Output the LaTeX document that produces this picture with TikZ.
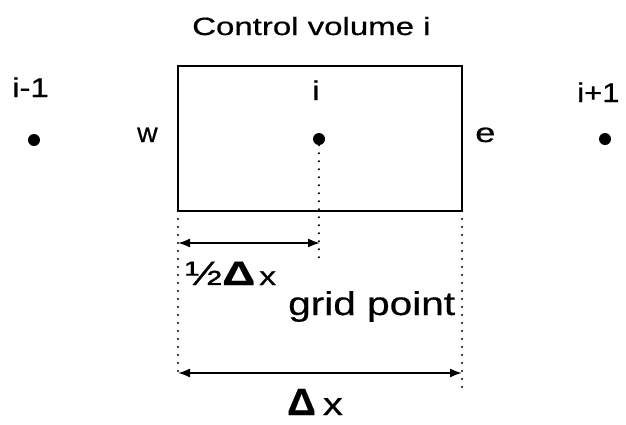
\documentclass[tikz,border=0pt]{standalone}
\usepackage{graphicx}
\usepackage{fontspec}
\setmainfont{Liberation Sans}[FakeBold=0.5]
\usetikzlibrary{arrows.meta}
\newcommand\widetxt[2][1.22]{\scalebox{#1}[1]{#2}}
\tikzset{
  lbl/.style={inner sep=0pt, anchor=base west, font=\fontsize{27}{30}\selectfont},
  txt/.style={inner sep=0pt, anchor=base west},
  dotpt/.style={circle, fill=black, inner sep=0pt, minimum size=12pt},
  guide/.style={line width=2.1pt, line cap=round, dash pattern=on 0pt off 8pt},
  dim/.style={line width=1.8pt, {Latex[length=12pt,width=9pt]}-{Latex[length=12pt,width=9pt]}},
}
\begin{document}
\begin{tikzpicture}[x=1pt, y=-1pt]
\useasboundingbox (0,0) rectangle (626,424);
% control volume box
\draw[line width=1.8pt] (178,66) rectangle (462,211);
\coordinate (bl) at (178,211);
\coordinate (br) at (462,211);
% points
\node[dotpt] (pim) at (34,140) {};
\node[dotpt] (pi) at (319,139) {};
\node[dotpt] (pip) at (605,139) {};
% labels
\node[txt, font=\fontsize{25}{30}\selectfont] (title) at (192,35) {\widetxt[1.32]{Control volume i}};
\node[lbl] (lim) at (12,97) {\widetxt{i-1}};
\node[lbl] (li) at (312,100) {\widetxt{i}};
\node[lbl] (lip) at (577,102) {\widetxt[1.15]{i+1}};
\node[lbl] (lw) at (137,142) {\widetxt[1.05]{w}};
\node[lbl] (le) at (475,142) {\widetxt[1.35]{e}};
% guide lines
\coordinate (cend) at (319,258);
\coordinate (lend) at (178,376);
\coordinate (rend) at (462,388);
\draw[guide] (pi.south) -- (cend);
\draw[guide] (bl) -- (lend);
\draw[guide] (br) -- (rend);
% dimension arrows
\coordinate (a1l) at (178,243);
\coordinate (a1r) at (320,243);
\coordinate (a2l) at (178,373);
\coordinate (a2r) at (462,373);
\draw[dim] (a1l) -- (a1r);
\draw[dim] (a2l) -- (a2r);
% dimension labels
\node[txt, font=\fontsize{34}{36}\selectfont] (half) at (185,285) {\widetxt[1.3]{½}};
\node[txt, font=\fontsize{34}{36}\selectfont] (hdelta) at (222,285) {\widetxt[1.35]{\textbf{Δ}}};
\node[txt, font=\fontsize{26}{30}\selectfont] (hx) at (259,285) {\widetxt[1.3]{x}};
\node[txt, font=\fontsize{33}{38}\selectfont] (gp) at (288,315) {\widetxt[1.23]{grid point}};
\node[txt, font=\fontsize{38}{42}\selectfont] (dx) at (287,415)
  {\widetxt[1.05]{\textbf{Δ}}\hspace{7pt}\widetxt[1.25]{\fontsize{32}{34}\selectfont x}};
\end{tikzpicture}
\end{document}
